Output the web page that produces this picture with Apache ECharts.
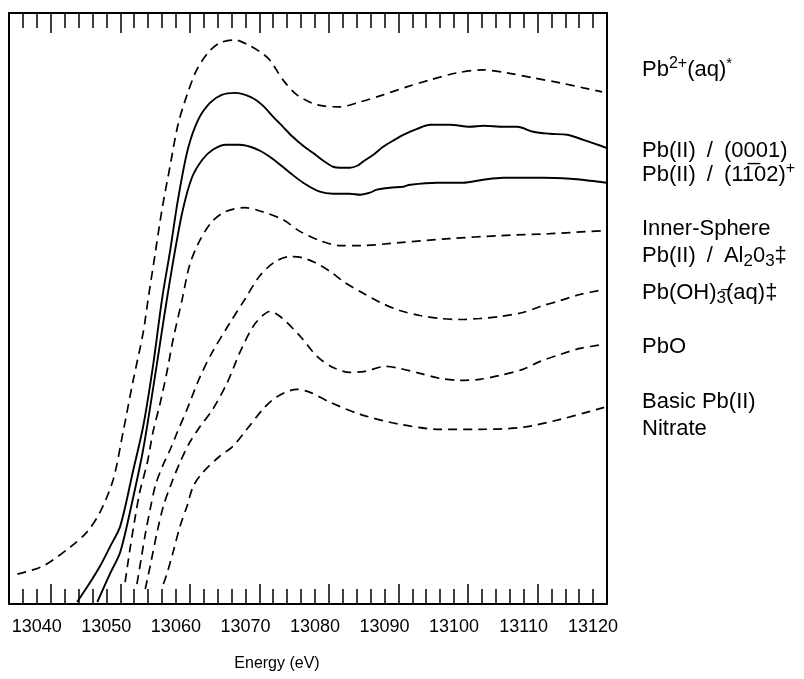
<!DOCTYPE html>
<html>
<head>
<meta charset="utf-8">
<script src="https://cdn.jsdelivr.net/npm/echarts@6/dist/echarts.min.js"></script>
<style>html,body{margin:0;padding:0;background:#fff}#c{width:804px;height:679px}</style>
</head>
<body>
<div id="c"></div>
<script>
// ---- data (energy in eV, normalized absorbance + offset) ----
const xTickLabels = [13040, 13050, 13060, 13070, 13080, 13090, 13100, 13110, 13120];
const longTicks = [13042, 13052, 13062, 13072, 13082, 13092, 13102, 13112];

const pb2E = [13037.2,13040.9,13044.8,13047.2,13049.1,13051.0,13052.4,13053.8,13055.3,13056.0,13057.0,13058.0,13059.2,13060.3,13061.6,13063.0,13064.6,13066.3,13068.5,13070.4,13072.1,13073.5,13075.4,13077.4,13080.3,13083.6,13086.5,13089.8,13093.2,13096.6,13100.4,13104.2,13107.6,13111.4,13115.3,13118.6,13121.3];
const pb2V = [0.30,0.38,0.57,0.72,0.92,1.25,1.72,2.22,2.72,3.05,3.50,3.95,4.40,4.80,5.10,5.35,5.52,5.62,5.65,5.60,5.53,5.45,5.25,5.10,5.00,4.98,5.03,5.10,5.18,5.25,5.32,5.35,5.32,5.27,5.22,5.17,5.13];

const s0001E = [13045.8,13047.7,13049.1,13050.5,13052.0,13053.8,13055.3,13056.7,13058.0,13059.2,13060.3,13061.7,13063.2,13064.9,13066.6,13068.5,13070.7,13072.4,13074.0,13075.4,13076.8,13078.3,13079.7,13081.2,13082.6,13084.0,13085.0,13086.1,13086.9,13088.4,13089.8,13091.2,13092.7,13094.7,13096.6,13099.4,13102.3,13104.2,13107.1,13109.1,13111.4,13113.8,13116.3,13118.6,13120.3,13121.9];
const s0001V = [0.02,0.22,0.38,0.57,0.78,1.32,1.78,2.38,3.05,3.55,4.05,4.55,4.85,5.02,5.10,5.12,5.08,5.00,4.88,4.78,4.68,4.59,4.52,4.44,4.38,4.37,4.37,4.39,4.43,4.50,4.58,4.64,4.70,4.76,4.80,4.80,4.78,4.79,4.78,4.78,4.73,4.71,4.70,4.65,4.61,4.57];

const s1102E = [13048.7,13050.5,13052.0,13053.8,13055.3,13056.7,13057.7,13058.7,13059.9,13061.0,13062.3,13063.8,13065.3,13067.2,13069.2,13070.7,13072.1,13073.5,13075.0,13076.4,13078.3,13080.7,13082.6,13085.0,13086.5,13087.9,13088.9,13090.8,13092.7,13093.7,13097.6,13101.3,13104.2,13107.1,13109.9,13112.8,13116.7,13119.6,13121.9];
const s1102V = [0.02,0.30,0.52,1.05,1.55,2.15,2.60,3.05,3.55,3.95,4.27,4.45,4.55,4.60,4.60,4.58,4.54,4.48,4.40,4.32,4.22,4.13,4.11,4.11,4.10,4.12,4.15,4.17,4.18,4.20,4.22,4.22,4.25,4.27,4.27,4.27,4.26,4.24,4.22];

const innerE = [13052.7,13053.4,13054.1,13054.8,13055.9,13056.7,13057.7,13058.7,13059.6,13060.9,13062.0,13063.5,13065.2,13067.1,13069.9,13072.4,13075.4,13077.9,13080.7,13083.6,13086.5,13092.2,13099.4,13106.6,13113.8,13121.6];
const innerV = [0.22,0.55,0.85,1.12,1.42,1.72,2.00,2.32,2.65,3.05,3.40,3.65,3.83,3.93,3.97,3.93,3.85,3.73,3.64,3.59,3.59,3.62,3.66,3.69,3.71,3.74];

const ohE = [13054.4,13055.0,13055.6,13056.3,13057.1,13058.2,13059.2,13060.2,13061.6,13063.5,13065.3,13067.8,13069.9,13072.1,13074.3,13076.4,13078.1,13080.0,13082.2,13084.3,13086.5,13089.4,13092.2,13095.1,13098.0,13100.9,13103.7,13106.6,13109.9,13112.4,13115.3,13118.1,13121.6];
const ohV = [0.20,0.45,0.70,0.95,1.20,1.40,1.55,1.72,1.95,2.28,2.53,2.82,3.05,3.29,3.43,3.48,3.47,3.42,3.33,3.22,3.13,3.02,2.94,2.89,2.86,2.85,2.86,2.88,2.92,2.98,3.04,3.10,3.15];

const pboE = [13055.6,13056.3,13057.3,13058.2,13059.2,13060.6,13062.0,13063.5,13065.3,13067.4,13069.2,13071.1,13072.5,13073.5,13075.0,13077.9,13080.3,13082.6,13085.0,13087.2,13090.1,13092.2,13095.1,13098.0,13100.9,13103.7,13106.6,13109.9,13112.4,13115.3,13118.1,13121.6];
const pboV = [0.15,0.38,0.72,0.98,1.18,1.42,1.62,1.78,1.95,2.22,2.52,2.78,2.89,2.93,2.88,2.68,2.48,2.37,2.32,2.33,2.38,2.36,2.31,2.26,2.24,2.25,2.29,2.35,2.43,2.50,2.56,2.60];

const nitE = [13058.2,13058.7,13059.6,13060.6,13061.6,13062.5,13063.9,13066.3,13068.2,13070.2,13072.5,13074.0,13075.7,13077.4,13079.3,13082.2,13086.5,13092.2,13098.0,13103.7,13109.9,13115.3,13119.6,13121.6];
const nitV = [0.20,0.30,0.52,0.78,0.98,1.18,1.32,1.48,1.58,1.75,1.95,2.05,2.12,2.15,2.12,2.02,1.90,1.80,1.75,1.75,1.77,1.85,1.93,1.97];

const curves = [
  { name: 'Pb2+(aq)', e: pb2E, v: pb2V, dashed: true },
  { name: 'Pb(II)/(0001)', e: s0001E, v: s0001V, dashed: false },
  { name: 'Pb(II)/(1-102)', e: s1102E, v: s1102V, dashed: false },
  { name: 'Inner-Sphere Pb(II)/Al2O3', e: innerE, v: innerV, dashed: true },
  { name: 'Pb(OH)3-(aq)', e: ohE, v: ohV, dashed: true },
  { name: 'PbO', e: pboE, v: pboV, dashed: true },
  { name: 'Basic Pb(II) Nitrate', e: nitE, v: nitV, dashed: true }
];

// ---- chart ----
const FONT = '"Liberation Sans", Arial, Helvetica, sans-serif';
const chart = echarts.init(document.getElementById('c'), null, { renderer: 'canvas' });
const XMIN = 13036, XMAX = 13122, YMAX = 5.92;
const gridBox = { left: 9, right: 197, top: 13, bottom: 75, containLabel: false, outerBoundsMode: 'none' };

const tickStyle = { color: '#000', width: 1.5 };
const mainX = (pos, extra) => Object.assign({
  type: 'value', gridIndex: 0, position: pos, min: XMIN, max: XMAX, interval: 2,
  axisLine: { show: true, onZero: false, lineStyle: { color: '#000', width: 2 } },
  axisTick: { show: true, inside: true, length: 15, lineStyle: tickStyle },
  axisLabel: { show: false },
  splitLine: { show: false }
}, extra || {});
const longX = (gi, pos) => ({
  type: 'value', gridIndex: gi, position: pos, min: XMIN, max: XMAX,
  axisLine: { show: false, onZero: false },
  axisTick: { show: true, inside: true, length: 20, customValues: longTicks, lineStyle: tickStyle },
  axisLabel: { show: false },
  splitLine: { show: false }
});
const plainY = (gi, pos, line) => ({
  type: 'value', gridIndex: gi, position: pos, min: 0, max: YMAX,
  axisLine: { show: line, onZero: false, lineStyle: { color: '#000', width: 2 } },
  axisTick: { show: false }, axisLabel: { show: false }, splitLine: { show: false }
});

const textBase = { fill: '#000', fontSize: 22, fontFamily: FONT, verticalAlign: 'middle', align: 'left', lineHeight: 28 };
const rich = {
  sup: { fontSize: 16, fontFamily: FONT, verticalAlign: 'top', lineHeight: 12, fill: '#000' },
  ast: { fontSize: 15, fontFamily: FONT, verticalAlign: 'top', lineHeight: 16, fill: '#000' },
  sub: { fontSize: 17, fontFamily: FONT, verticalAlign: 'bottom', lineHeight: 13, fill: '#000' }
};
const SP = '\u2002';
const labels = [
  { text: 'Pb{sup|2+}(aq){ast|*}', y: 70 },
  { text: 'Pb(II)' + SP + '/' + SP + '(0001)', y: 151 },
  { text: 'Pb(II)' + SP + '/' + SP + '(11\u030502){sup|+}', y: 175 },
  { text: 'Inner-Sphere', y: 229 },
  { text: 'Pb(II)' + SP + '/' + SP + 'Al{sub|2}0{sub|3}\u2021', y: 256 },
  { text: 'Pb(OH){sub|3\u0305}(aq)\u2021', y: 293 },
  { text: 'PbO', y: 347 },
  { text: 'Basic Pb(II)', y: 402 },
  { text: 'Nitrate', y: 429 }
];

chart.setOption({
  animation: false,
  backgroundColor: '#fff',
  grid: [Object.assign({}, gridBox), Object.assign({}, gridBox), Object.assign({}, gridBox)],
  xAxis: [
    mainX('bottom', {
      axisLabel: {
        show: true, margin: 14, color: '#000', fontSize: 18, fontFamily: FONT,
        formatter: v => (xTickLabels.indexOf(v) >= 0 ? String(v) : '')
      },
      name: 'Energy (eV)', nameLocation: 'middle', nameGap: 52,
      nameTextStyle: { color: '#000', fontSize: 16, fontFamily: FONT, padding: [0, 62, 0, 0] }
    }),
    mainX('top'),
    longX(1, 'bottom'),
    longX(2, 'top')
  ],
  yAxis: [
    plainY(0, 'left', true),
    plainY(0, 'right', true),
    plainY(1, 'left', false),
    plainY(2, 'left', false)
  ],
  series: curves.map(c => ({
    type: 'line', name: c.name, xAxisIndex: 0, yAxisIndex: 0,
    data: c.e.map((x, i) => [x, c.v[i]]),
    showSymbol: false, smooth: 0.3, silent: true, clip: true,
    lineStyle: { color: '#000', width: c.dashed ? 1.7 : 1.9, type: c.dashed ? [9, 6] : 'solid' }
  })),
  graphic: labels.map(l => ({
    type: 'text', x: 642, y: l.y, silent: true,
    style: Object.assign({ text: l.text, rich: rich }, textBase)
  }))
});
</script>
</body>
</html>
